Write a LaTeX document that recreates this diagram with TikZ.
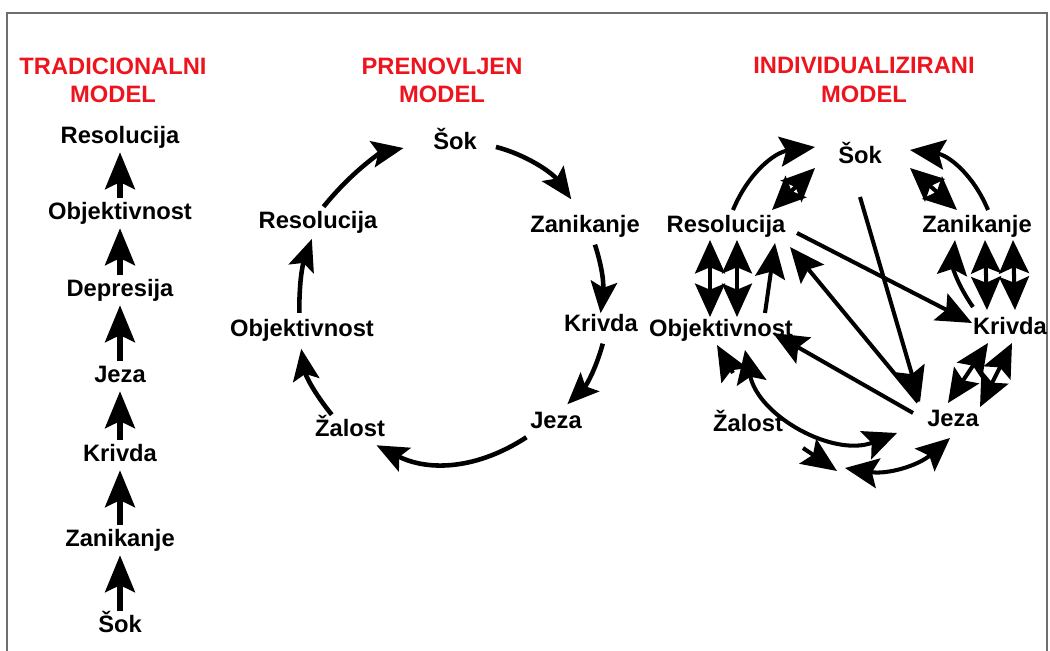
\documentclass[tikz,border=0pt]{standalone}
\usepackage{fontspec}
\setmainfont{Liberation Sans}
\usepackage{tikz}
\usetikzlibrary{arrows.meta, calc}
\definecolor{titlered}{RGB}{238, 20, 30}
\definecolor{framegray}{RGB}{110, 110, 110}

\begin{document}
\begin{tikzpicture}[
    x=0.02cm, y=-0.02cm,
    every node/.style={font=\fontsize{13.5}{16}\selectfont\bfseries},
    lbl/.style={inner sep=2pt, text height=10pt, text depth=3pt},
    ttl/.style={text=titlered, align=center, inner sep=0pt},
    uparr/.style={-{Stealth[length=21pt, width=17pt, inset=4pt]}, line width=3pt},
    ringarr/.style={-{Stealth[length=18pt, width=15pt, inset=3.5pt]}, line width=2.6pt},
    mixarr/.style={-{Stealth[length=20pt, width=17pt, inset=3.5pt]}, line width=2.3pt},
    mixdbl/.style={{Stealth[length=19pt, width=17pt, inset=3.5pt]}-{Stealth[length=19pt, width=17pt, inset=3.5pt]}, line width=2.3pt},
]
\useasboundingbox (0,0) rectangle (1050,651);

%% Okvir
\draw[framegray, line width=1.4pt] (7,651) -- (7,13) -- (1047,13) -- (1047,651);

%% Naslovi
\node[ttl] at (113,80) (tTitle) {TRADICIONALNI\\MODEL};
\node[ttl] at (442,80) (pTitle) {PRENOVLJEN\\MODEL};
\node[ttl] at (864,80) (iTitle) {INDIVIDUALIZIRANI\\MODEL};

%% Tradicionalni model
\node[lbl] at (120,137) (tRes) {Resolucija};
\node[lbl] at (120,213) (tObj) {Objektivnost};
\node[lbl] at (120,290) (tDep) {Depresija};
\node[lbl] at (120,376) (tJez) {Jeza};
\node[lbl] at (120,455) (tKri) {Krivda};
\node[lbl] at (120,540) (tZan) {Zanikanje};
\node[lbl] at (120,626) (tSok) {Šok};

\draw[uparr] (tSok) -- (tZan);
\draw[uparr] (tZan) -- (tKri);
\draw[uparr] (tKri) -- (tJez);
\draw[uparr] (tJez) -- (tDep);
\draw[uparr] (tDep) -- (tObj);
\draw[uparr] (tObj) -- (tRes);

%% Prenovljen model
\node[lbl] at (455,143) (pSok) {Šok};
\node[lbl] at (585,226) (pZan) {Zanikanje};
\node[lbl] at (601,325) (pKri) {Krivda};
\node[lbl] at (556,422) (pJez) {Jeza};
\node[lbl] at (350,430) (pZal) {Žalost};
\node[lbl] at (302,330) (pObj) {Objektivnost};
\node[lbl] at (318,222) (pRes) {Resolucija};

\draw[ringarr, shorten <=9pt, shorten >=8pt] (pSok.east) to[bend left=20] (pZan.110);
\draw[ringarr, shorten <=2pt, shorten >=-2pt] (pZan.-60) to[bend left=12] (pKri.north);
\draw[ringarr, shorten <=2pt, shorten >=2pt] (pKri.-80) to[bend left=15] (pJez.60);
\draw[ringarr] (pJez.south west) to[bend left=30] (pZal.-30);
\draw[ringarr, shorten >=2pt] (pZal.140) to[bend left=15] (pObj.-95);
\draw[ringarr, shorten <=1pt, shorten >=1pt] (pObj.100) to[bend left=10] (pRes.-110);
\draw[ringarr, shorten >=15pt] (pRes.70) to[bend left=20] (pSok.west);

%% Individualizirani model
\node[lbl] at (860,157) (iSok) {Šok};
\node[lbl] at (977,226) (iZan) {Zanikanje};
\node[lbl] at (726,226) (iRes) {Resolucija};
\node[lbl] at (1010,328) (iKri) {Krivda};
\node[lbl] at (721,330) (iObj) {Objektivnost};
\node[lbl] at (953,420) (iJez) {Jeza};
\node[lbl] at (748,425) (iZal) {Žalost};
\coordinate (iLow) at (837,471);
\coordinate (iLowB) at (845,468);

\draw[mixarr] ($(iRes)+(7,-16)$) to[bend left=30] ($(iSok)+(-45,-10)$);
\draw[mixdbl] ($(iRes)+(46,-16)$) -- ($(iSok)+(-45,11)$);
\draw[mixarr] ($(iZan)+(11,-16)$) to[bend right=30] ($(iSok)+(50,-7)$);
\draw[mixdbl] ($(iSok)+(50,11)$) -- ($(iZan)+(-20,-16)$);

\draw[mixdbl] ($(iRes)+(-16,14)$) -- ($(iObj)+(-11,-13)$);
\draw[mixdbl] ($(iRes)+(11,14)$) -- ($(iObj)+(16,-13)$);
\draw[mixarr] ($(iObj)+(44,-17)$) -- ($(iRes)+(49,17)$);

\draw[mixarr] ($(iKri)+(-37,-21)$) to[bend left=20] ($(iZan)+(-22,14)$);
\draw[mixdbl] ($(iZan)+(8,14)$) -- ($(iKri)+(-23,-18)$);
\draw[mixdbl] ($(iZan)+(36,14)$) -- ($(iKri)+(5,-18)$);

\draw[mixarr] ($(iRes)+(71,7)$) -- ($(iKri)+(-38,-5)$);
\draw[mixarr] ($(iSok)+(0,40)$) -- ($(iJez)+(-33,-18)$);
\draw[mixarr] ($(iJez)+(-35,-18)$) -- ($(iRes)+(64,21)$);
\draw[mixarr] ($(iJez)+(-40,-7)$) -- ($(iObj)+(52,3)$);

\draw[mixdbl] ($(iKri)+(-22,15)$) -- ($(iJez)+(-5,-17)$);
\draw[mixdbl] ($(iKri)+(2,15)$) -- ($(iJez)+(27,-13)$);

\draw[mixarr] ($(iZal)+(-15,-52)$) -- ($(iObj)+(-4,15)$);
\draw[mixdbl] ($(iObj)+(24,20)$) to[bend right=50] ($(iJez)+(-56,13)$);
\draw[mixarr] ($(iZal)+(55,23)$) -- (iLow);
\draw[mixdbl] (iLowB) to[bend right=25] ($(iJez)+(-3,18)$);

\end{tikzpicture}
\end{document}
